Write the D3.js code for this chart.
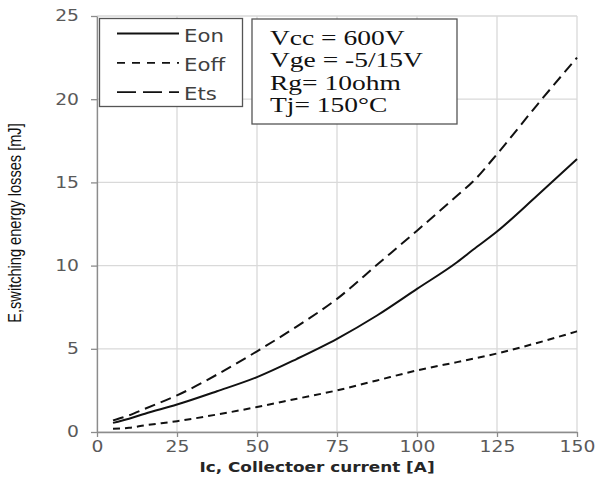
<!DOCTYPE html>
<html>
<head>
<meta charset="utf-8">
<script src="https://cdn.jsdelivr.net/npm/d3@7"></script>
<style>body { margin: 0; background: #fff; }</style>
</head>
<body>
<script>
// collector current [A] and the three loss curves [mJ]
var current = [5, 10, 15, 25, 37.5, 50, 62.5, 75, 87.5, 100, 112.5, 117.5, 125, 137.5, 150];
var eon  = [0.55, 0.8, 1.1, 1.65, 2.45, 3.3, 4.4, 5.6, 7.0, 8.6, 10.2, 10.95, 12.05, 14.2, 16.4];
var eoff = [0.2, 0.25, 0.4, 0.65, 1.05, 1.5, 2.0, 2.5, 3.1, 3.7, 4.2, 4.4, 4.72, 5.35, 6.05];
var ets  = [0.7, 1.0, 1.4, 2.2, 3.45, 4.85, 6.35, 8.0, 10.05, 12.1, 14.2, 15.05, 16.7, 19.65, 22.5];

var xTicks = [0, 25, 50, 75, 100, 125, 150];
var yTicks = [0, 5, 10, 15, 20, 25];
var legendNames = ['Eon', 'Eoff', 'Ets'];
var conditions = ['Vcc = 600V', 'Vge = -5/15V', 'Rg= 10ohm', 'Tj= 150\u00B0C'];

var w = 596, h = 484,
  margin = { top: 16, right: 19, bottom: 52, left: 97 },
  stretch = 1.25; // glyphs in the picture are a little wider than normal

var svg = d3.select('body')
  .append('svg')
  .attr('width', w)
  .attr('height', h);

var x = d3.scaleLinear().domain([0, 150]).range([margin.left, w - margin.right]);
var y = d3.scaleLinear().domain([0, 25]).range([h - margin.bottom, margin.top]);

// grid
svg.append('g').selectAll('line').data(xTicks).enter()
  .append('line')
  .attr('x1', function (d) { return x(d); })
  .attr('x2', function (d) { return x(d); })
  .attr('y1', y(0)).attr('y2', y(25))
  .attr('stroke', '#d9d9d9').attr('stroke-width', 1.3);
svg.append('g').selectAll('line').data(yTicks).enter()
  .append('line')
  .attr('x1', x(0)).attr('x2', x(150))
  .attr('y1', function (d) { return y(d); })
  .attr('y2', function (d) { return y(d); })
  .attr('stroke', '#d9d9d9').attr('stroke-width', 1.3);

// axes
var yAxis = svg.append('g')
  .attr('transform', 'translate(' + x(0) + ',0)')
  .call(d3.axisLeft(y).tickValues(yTicks).tickSize(6).tickSizeOuter(0).tickPadding(10));
var xAxis = svg.append('g')
  .attr('transform', 'translate(0,' + y(0) + ')')
  .call(d3.axisBottom(x).tickValues(xTicks).tickSize(5).tickSizeOuter(0).tickPadding(4));

[yAxis, xAxis].forEach(function (a) {
  a.select('.domain').attr('stroke', '#8c8c8c').attr('stroke-width', 1.3);
  a.selectAll('.tick line').attr('stroke', '#8c8c8c').attr('stroke-width', 1.3);
  a.selectAll('.tick text')
    .attr('font-family', 'DejaVu Sans')
    .attr('font-size', '15px')
    .attr('fill', '#595959');
});
yAxis.selectAll('.tick text').attr('transform', 'scale(' + stretch + ',1)').attr('x', -18 / stretch);
xAxis.selectAll('.tick text').attr('transform', 'scale(' + stretch + ',1)');

// curves
var line = d3.line()
  .x(function (d) { return x(d[0]); })
  .y(function (d) { return y(d[1]); })
  .curve(d3.curveMonotoneX);

var series = [
  { name: 'Eon', values: eon, dash: null, keyDash: null },
  { name: 'Eoff', values: eoff, dash: '7,5', keyDash: '8,7' },
  { name: 'Ets', values: ets, dash: '11,6', keyDash: '19,7' }
];

svg.append('g').selectAll('path').data(series).enter()
  .append('path')
  .attr('d', function (s) { return line(d3.zip(current, s.values)); })
  .attr('fill', 'none')
  .attr('stroke', '#111')
  .attr('stroke-width', 2)
  .attr('stroke-dasharray', function (s) { return s.dash; });

// legend
var legend = svg.append('g');
legend.append('rect')
  .attr('x', 99.5).attr('y', 18.5).attr('width', 143).attr('height', 88)
  .attr('fill', '#fff').attr('stroke', '#555').attr('stroke-width', 1.3);
legend.selectAll('line.key').data(series).enter()
  .append('line')
  .attr('x1', 117).attr('x2', 179)
  .attr('y1', function (d, i) { return 33.5 + i * 29.3; })
  .attr('y2', function (d, i) { return 33.5 + i * 29.3; })
  .attr('stroke', '#111').attr('stroke-width', 1.8)
  .attr('stroke-dasharray', function (s) { return s.keyDash; });
legend.selectAll('text').data(legendNames).enter()
  .append('text')
  .text(function (d) { return d; })
  .attr('transform', function (d, i) {
    return 'translate(184,' + (41.5 + i * 29.3) + ') scale(1.18,1)';
  })
  .attr('font-family', 'DejaVu Sans')
  .attr('font-size', '18px')
  .attr('fill', '#404040');

// test conditions box
var box = svg.append('g');
box.append('rect')
  .attr('x', 252).attr('y', 19).attr('width', 205).attr('height', 105)
  .attr('fill', '#fff').attr('stroke', '#555').attr('stroke-width', 1.3);
box.selectAll('text').data(conditions).enter()
  .append('text')
  .text(function (d) { return d; })
  .attr('transform', function (d, i) {
    return 'translate(270,' + (45 + i * 22.3) + ') scale(' + stretch + ',1)';
  })
  .attr('font-family', 'Liberation Serif')
  .attr('font-size', '22px')
  .attr('fill', '#111');

// axis titles
svg.append('text')
  .text('Ic, Collectoer current [A]')
  .attr('transform', 'translate(317,472) scale(' + stretch + ',1)')
  .attr('text-anchor', 'middle')
  .attr('font-family', 'DejaVu Sans')
  .attr('font-weight', 'bold')
  .attr('font-size', '13.5px')
  .attr('fill', '#262626');

svg.append('text')
  .text('E,switching energy losses [mJ]')
  .attr('transform', 'translate(21,223) rotate(-90) scale(1,1.2)')
  .attr('text-anchor', 'middle')
  .attr('font-family', 'Liberation Sans')
  .attr('font-size', '14.6px')
  .attr('fill', '#111');
</script>
</body>
</html>
